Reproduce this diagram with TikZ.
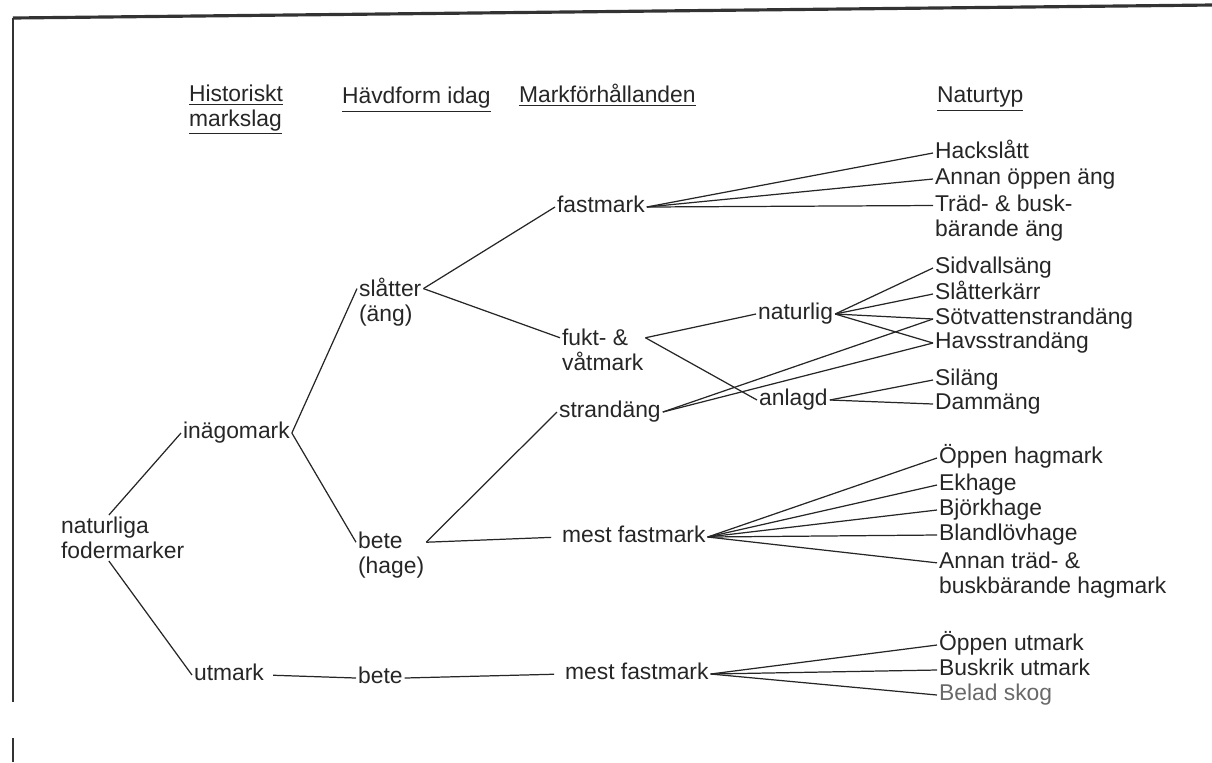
\documentclass[tikz,border=0pt]{standalone}
\usepackage{fontspec}
\setmainfont{Liberation Sans}
\usepackage{tikz}
\definecolor{inkgray}{RGB}{38,38,38}
\definecolor{fadegray}{RGB}{105,105,105}

\begin{document}
\begin{tikzpicture}[x=0.02cm, y=-0.02cm,
    term/.style={anchor=west, inner sep=1pt, text=inkgray, font=\fontsize{13}{14.2}\selectfont, text height=9pt, text depth=2.5pt},
    terms/.style={anchor=west, inner sep=1pt, text=inkgray, font=\fontsize{13}{14.2}\selectfont, align=left},
    link/.style={draw=black!85, line width=0.7pt},
]
\useasboundingbox (0,0) rectangle (1212,762);
\draw[black!80, line width=1.8pt] (13,18) -- (1212,5);
\draw[black!80, line width=0.9pt] (13,18) -- (13,702) (13,738) -- (13,762);

\node[terms] (hist) at (187,110) {\underline{Historiskt}\\\underline{markslag}};
\node[term] (havd) at (340,98) {\underline{Hävdform idag}};
\node[term] (markf) at (517,97) {\underline{Markförhållanden}};
\node[term] (natyp) at (935,97) {\underline{Naturtyp}};

\node[terms] (nat) at (59,538) {naturliga\\fodermarker};
\node[term] (inago) at (181,433) {inägomark};
\node[term] (utmark) at (192,675) {utmark};
\node[terms] (slatter) at (357,302) {slåtter\\(äng)};
\node[terms] (beteh) at (356,555) {bete\\(hage)};
\node[term] (beteu) at (356,678) {bete};
\node[term] (fast) at (555,207) {fastmark};
\node[terms] (fukt) at (560,350) {fukt- \&\\våtmark};
\node[term] (strand) at (557,412) {strandäng};
\node[term] (mesth) at (560,537) {mest fastmark};
\node[term] (mestu) at (563,674) {mest fastmark};
\node[term] (naturlig) at (756,314) {naturlig};
\node[term] (anlagd) at (757,400) {anlagd};

\node[term] (hack) at (933,153) {Hackslått};
\node[term] (oppenang) at (933,179) {Annan öppen äng};
\node[terms] (tradang) at (933,218) {Träd- \& busk-\\bärande äng};
\node[term] (sidvall) at (933,268) {Sidvallsäng};
\node[term] (slkarr) at (933,294) {Slåtterkärr};
\node[term] (sotv) at (933,319) {Sötvattenstrandäng};
\node[term] (havs) at (933,343) {Havsstrandäng};
\node[term] (silang) at (933,380) {Siläng};
\node[term] (damm) at (933,404) {Dammäng};
\node[term] (oppenhag) at (937,458) {Öppen hagmark};
\node[term] (ekhage) at (937,485) {Ekhage};
\node[term] (bjork) at (937,510) {Björkhage};
\node[term] (bland) at (937,535) {Blandlövhage};
\node[terms] (annanhag) at (937,575) {Annan träd- \&\\buskbärande hagmark};
\node[term] (oppenut) at (937,645) {Öppen utmark};
\node[term] (buskrik) at (937,670) {Buskrik utmark};
\node[term, text=fadegray] (belad) at (937,695) {Belad skog};

\draw[link] (nat.121) -- (inago.west);
\draw[link] (nat.239) -- (utmark.west);
\draw[link] (inago.east) -- (slatter.158);
\draw[link] (inago.east) -- (beteh.160);
\draw[link, shorten <=4pt] (utmark.east) -- (beteu.west);
\draw[link, shorten >=5pt] (beteu.east) -- (mestu.west);
\draw[link] (slatter.22) -- (fast.west);
\draw[link] (slatter.22) -- (fukt.164);
\draw[link] (beteh.20) -- (strand.west);
\draw[link, shorten >=5pt] (beteh.20) -- (mesth.west);
\draw[link] (fukt.16) -- (naturlig.west);
\draw[link] (fukt.16) -- (anlagd.west);
\draw[link] (fast.east) -- (hack.west);
\draw[link] (fast.east) -- (oppenang.west);
\draw[link] (fast.east) -- (tradang.170);
\draw[link] (naturlig.east) -- (sidvall.west);
\draw[link] (naturlig.east) -- (slkarr.west);
\draw[link] (naturlig.east) -- (sotv.west);
\draw[link] (naturlig.east) -- (havs.west);
\draw[link] (strand.east) -- (sotv.west);
\draw[link] (strand.east) -- (havs.west);
\draw[link] (anlagd.east) -- (silang.west);
\draw[link] (anlagd.east) -- (damm.west);
\draw[link] (mesth.east) -- (oppenhag.west);
\draw[link] (mesth.east) -- (ekhage.west);
\draw[link] (mesth.east) -- (bjork.west);
\draw[link] (mesth.east) -- (bland.west);
\draw[link] (mesth.east) -- (annanhag.174);
\draw[link] (mestu.east) -- (oppenut.west);
\draw[link] (mestu.east) -- (buskrik.west);
\draw[link] (mestu.east) -- (belad.west);
\end{tikzpicture}
\end{document}
